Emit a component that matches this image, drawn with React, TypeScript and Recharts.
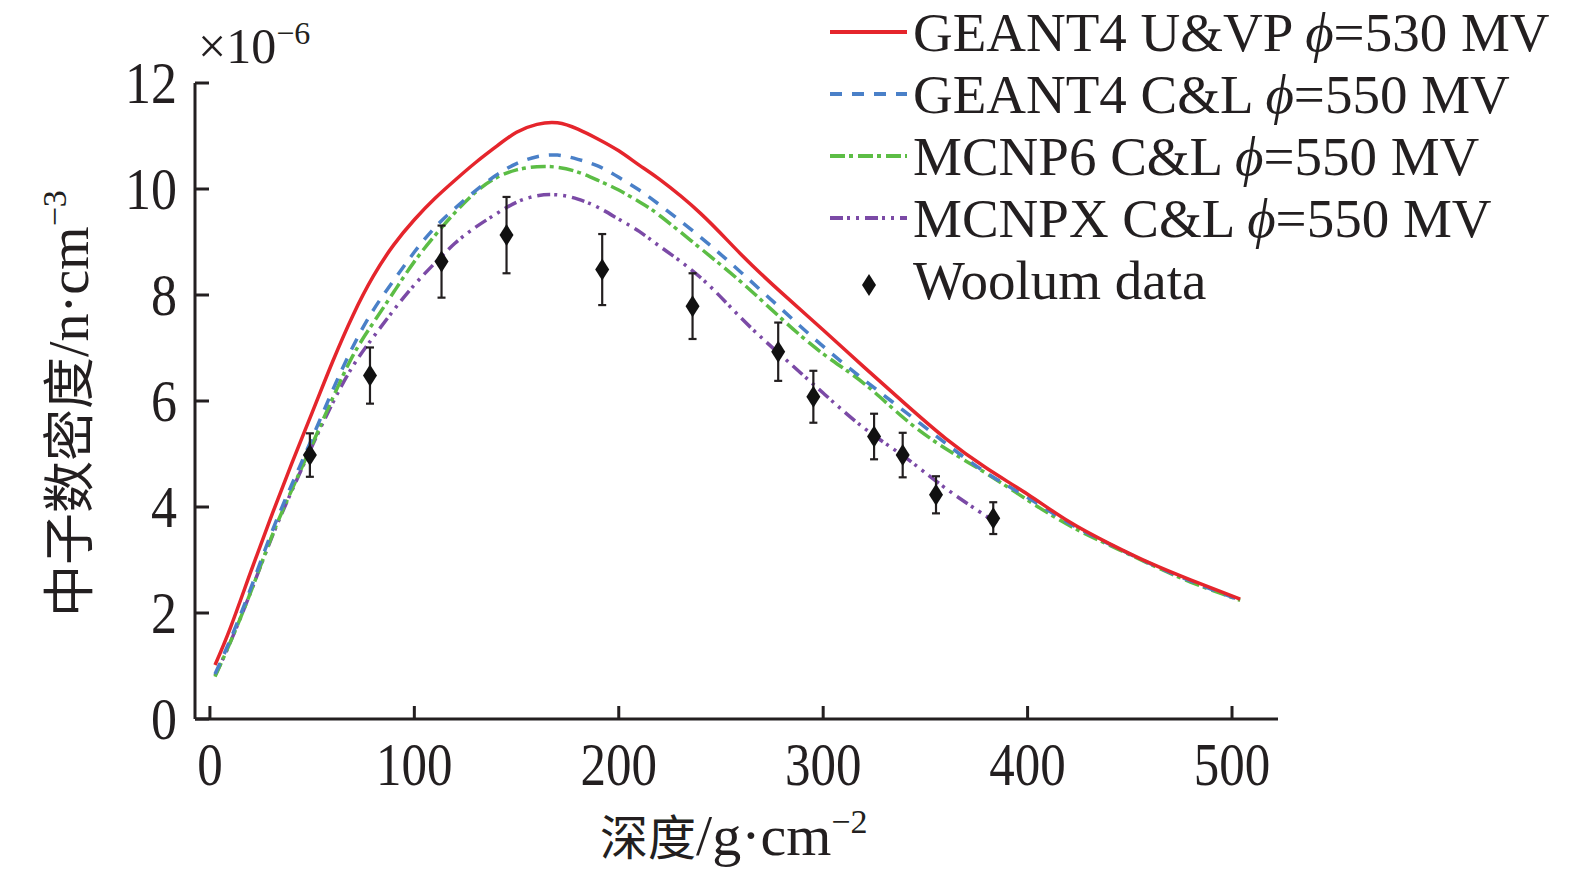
import React from 'react';
import { ComposedChart, Line, Scatter, XAxis, YAxis, ErrorBar } from 'recharts';

// Depth (g/cm^2) sample positions for the simulated curves
const depths = [2.5, 10, 20, 30, 40, 50, 60, 70, 80, 90, 100, 110, 120, 130, 140, 150, 160, 170, 180, 190, 200, 210, 220, 240, 260, 280, 300, 320, 340, 360, 380, 400, 420, 440, 460, 480, 504];
const geant4UVP = [1.02, 1.72, 2.78, 3.82, 4.82, 5.78, 6.74, 7.62, 8.36, 8.95, 9.42, 9.82, 10.17, 10.50, 10.80, 11.07, 11.22, 11.25, 11.13, 10.94, 10.72, 10.45, 10.18, 9.54, 8.76, 8.03, 7.34, 6.64, 5.95, 5.29, 4.73, 4.24, 3.73, 3.31, 2.94, 2.62, 2.26];
const geant4CL = [0.85, 1.50, 2.47, 3.50, 4.42, 5.30, 6.20, 7.03, 7.72, 8.28, 8.81, 9.27, 9.64, 9.97, 10.26, 10.48, 10.61, 10.64, 10.56, 10.43, 10.22, 9.98, 9.70, 9.09, 8.42, 7.72, 7.03, 6.40, 5.80, 5.20, 4.64, 4.18, 3.70, 3.30, 2.93, 2.60, 2.24];
const mcnp6CL = [0.80, 1.45, 2.40, 3.42, 4.32, 5.18, 6.05, 6.86, 7.48, 8.06, 8.63, 9.12, 9.56, 9.94, 10.21, 10.36, 10.42, 10.41, 10.32, 10.16, 9.98, 9.76, 9.50, 8.88, 8.24, 7.54, 6.89, 6.33, 5.66, 5.10, 4.63, 4.13, 3.66, 3.28, 2.92, 2.58, 2.24];

const mcnpxDepths = [2.5, 10, 20, 30, 40, 50, 60, 70, 80, 90, 100, 110, 120, 130, 140, 150, 160, 170, 180, 190, 200, 210, 220, 240, 260, 280, 300, 320, 340, 360, 380, 385];
const mcnpxCL = [0.82, 1.45, 2.40, 3.40, 4.30, 5.15, 5.96, 6.66, 7.21, 7.72, 8.19, 8.60, 8.98, 9.28, 9.53, 9.75, 9.87, 9.89, 9.81, 9.65, 9.43, 9.20, 8.92, 8.33, 7.56, 6.84, 6.15, 5.49, 4.94, 4.35, 3.82, 3.69];

// Woolum measured data
const woolumDepth = [48.9, 78.3, 113.3, 145.1, 191.9, 236.1, 278.0, 295.2, 324.9, 338.9, 355.2, 383.2];
const woolumValue = [4.98, 6.48, 8.63, 9.13, 8.48, 7.79, 6.93, 6.08, 5.33, 4.98, 4.23, 3.79];
const woolumError = [0.41, 0.53, 0.68, 0.72, 0.67, 0.62, 0.55, 0.49, 0.43, 0.42, 0.35, 0.30];

const xTicks = [0, 100, 200, 300, 400, 500];
const yTicks = [0, 2, 4, 6, 8, 10, 12];

const legendLabels = [
  { name: 'GEANT4 U&VP ', phi: '530' },
  { name: 'GEANT4 C&L ', phi: '550' },
  { name: 'MCNP6 C&L ', phi: '550' },
  { name: 'MCNPX C&L ', phi: '550' },
];

const RED = '#e5252c';
const BLUE = '#4a80c8';
const GREEN = '#5cbd45';
const PURPLE = '#7b4aa6';
const INK = '#231f20';
const SERIF = '"Liberation Serif", "Times New Roman", serif';
const CJK = '"Noto Sans CJK SC", "Liberation Serif", serif';

const toPoints = (xs: number[], ys: number[]) => xs.map((x, i) => ({ x, y: ys[i] }));
const redData = toPoints(depths, geant4UVP);
const blueData = toPoints(depths, geant4CL);
const greenData = toPoints(depths, mcnp6CL);
const purpleData = toPoints(mcnpxDepths, mcnpxCL);
const woolumData = woolumDepth.map((x, i) => ({ x, y: woolumValue[i], err: woolumError[i] }));

const W = 1567;
const H = 865;

const XTick = (props: any) => {
  const { x, y, payload } = props;
  return (
    <g>
      <line x1={x} x2={x} y1={y} y2={y - 13} stroke={INK} strokeWidth={3} />
      <text
        transform={`translate(${x},${y + 66}) scale(1,1.2)`}
        textAnchor="middle"
        fontSize={51}
        fontFamily={SERIF}
        fill={INK}
      >
        {payload.value}
      </text>
    </g>
  );
};

const YTick = (props: any) => {
  const { x, y, payload } = props;
  return (
    <g>
      <line x1={x} x2={x + 14} y1={y} y2={y} stroke={INK} strokeWidth={3} />
      <text
        transform={`translate(${x - 18},${y + 20}) scale(1,1.15)`}
        textAnchor="end"
        fontSize={52}
        fontFamily={SERIF}
        fill={INK}
      >
        {payload.value}
      </text>
    </g>
  );
};

const Diamond = (props: any) => {
  const { cx, cy } = props;
  if (cx == null || cy == null) return null;
  return <polygon points={`${cx},${cy - 11} ${cx + 7},${cy} ${cx},${cy + 11} ${cx - 7},${cy}`} fill="#111" />;
};

const legendDash = ['', '12 10', '15 4 4 5', '13 4 3 6 3 6'];
const legendColor = [RED, BLUE, GREEN, PURPLE];

const Overlay = () => (
  <svg width={W} height={H} style={{ position: 'absolute', left: 0, top: 0, pointerEvents: 'none' }}>
    <text x={190} y={55} fontSize={50} fontFamily={SERIF} fill={INK}>
      ×10<tspan dy={-19} fontSize={32}>−6</tspan>
    </text>
    <text transform="translate(80,609) rotate(-90)" fontSize={52} fill={INK}>
      <tspan fontFamily={CJK}>中子数密度</tspan>
      <tspan fontFamily={SERIF} fontSize={56}>/n·cm</tspan>
      <tspan fontFamily={SERIF} fontSize={34} dy={-22}>−3</tspan>
    </text>
    <text x={592} y={847} fontSize={48} fill={INK}>
      <tspan fontFamily={CJK}>深度</tspan>
      <tspan fontFamily={SERIF} fontSize={58}>/g·cm</tspan>
      <tspan fontFamily={SERIF} fontSize={34} dy={-22}>−2</tspan>
    </text>
    {legendLabels.map((l, i) => {
      const base = 43 + i * 62;
      const ly = base - 19;
      return (
        <g key={l.name}>
          <line x1={822} x2={899} y1={ly} y2={ly} stroke={legendColor[i]} strokeWidth={4} strokeDasharray={legendDash[i] || undefined} />
          <text x={905} y={base} fontSize={55} fontFamily={SERIF} fill={INK}>
            {l.name}
            <tspan fontStyle="italic">ϕ</tspan>={l.phi} MV
          </text>
        </g>
      );
    })}
    <polygon points="861,266 868,277 861,288 854,277" fill="#111" />
    <text x={905} y={291} fontSize={55} fontFamily={SERIF} fill={INK}>
      Woolum data
    </text>
  </svg>
);

export default function App() {
  return (
    <div style={{ position: 'relative', width: W, height: H, background: '#fff' }}>
      <ComposedChart width={W} height={H} margin={{ top: 75, left: 127, right: 297, bottom: 124 }}>
        <XAxis
          type="number"
          dataKey="x"
          domain={[-7.3, 522.5]}
          ticks={xTicks}
          interval={0}
          allowDataOverflow
          height={30}
          tickSize={0}
          tickMargin={0}
          tickLine={false}
          axisLine={{ stroke: INK, strokeWidth: 3 }}
          tick={XTick}
        />
        <YAxis
          type="number"
          dataKey="y"
          domain={[0, 12]}
          ticks={yTicks}
          interval={0}
          allowDataOverflow
          width={60}
          tickSize={0}
          tickMargin={0}
          tickLine={false}
          axisLine={{ stroke: INK, strokeWidth: 3 }}
          tick={YTick}
        />
        <Line data={purpleData} dataKey="y" type="natural" stroke={PURPLE} strokeWidth={3.5} strokeDasharray="13 4 3 6 3 6" dot={false} activeDot={false} isAnimationActive={false} />
        <Line data={greenData} dataKey="y" type="natural" stroke={GREEN} strokeWidth={3.5} strokeDasharray="15 4 4 5" dot={false} activeDot={false} isAnimationActive={false} />
        <Line data={blueData} dataKey="y" type="natural" stroke={BLUE} strokeWidth={3.5} strokeDasharray="12 10" dot={false} activeDot={false} isAnimationActive={false} />
        <Line data={redData} dataKey="y" type="natural" stroke={RED} strokeWidth={3.5} dot={false} activeDot={false} isAnimationActive={false} />
        <Scatter data={woolumData} dataKey="y" fill="#111" shape={<Diamond />} isAnimationActive={false}>
          <ErrorBar dataKey="err" direction="y" width={4} stroke={INK} strokeWidth={2.2} />
        </Scatter>
      </ComposedChart>
      <Overlay />
    </div>
  );
}
